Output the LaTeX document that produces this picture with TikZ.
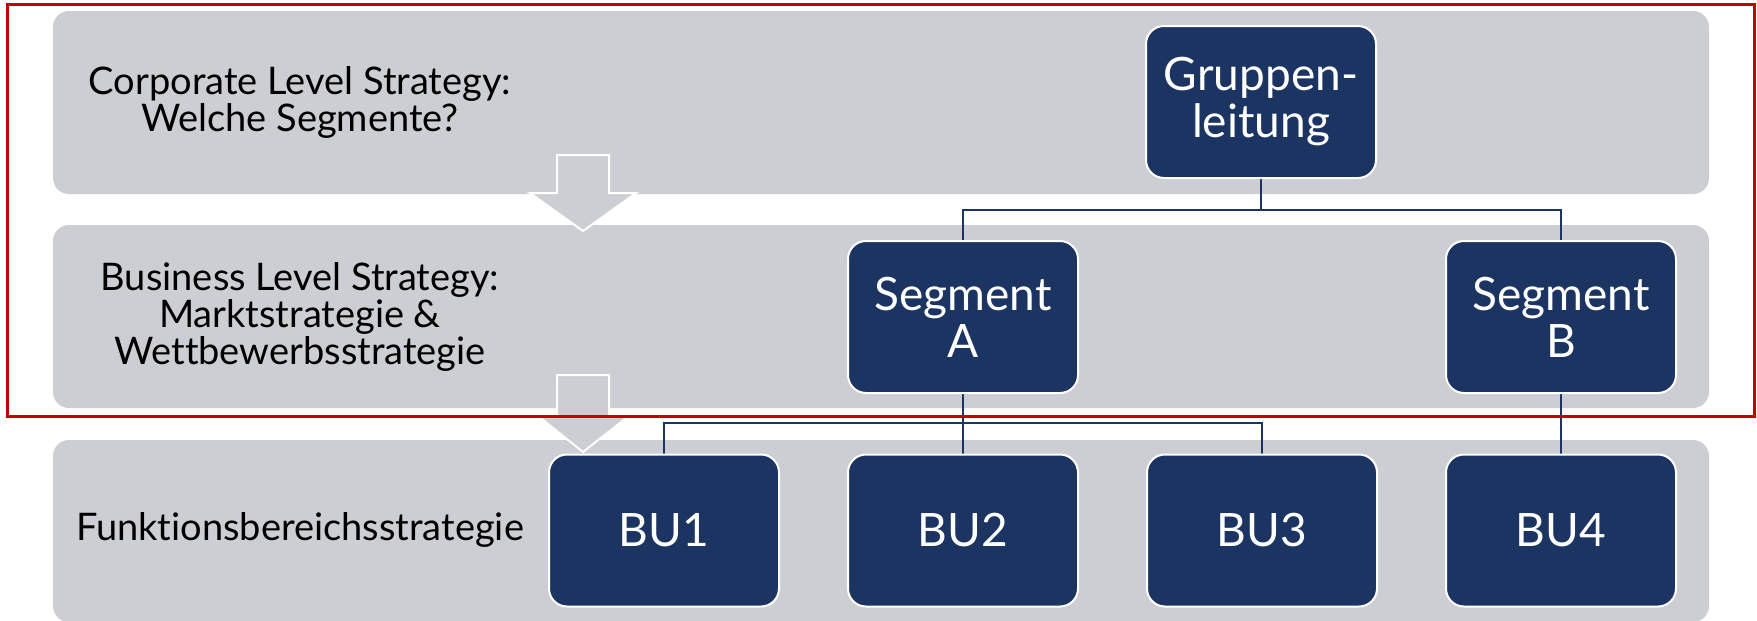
\documentclass[tikz,border=0pt]{standalone}
\usepackage{fontspec}
\setmainfont{Lato}[Ligatures={NoCommon,NoRare,NoContextual}]
\definecolor{bandgray}{RGB}{205,206,211}
\definecolor{navy}{RGB}{28,52,97}
\definecolor{framered}{RGB}{196,0,0}
\pgfdeclarelayer{bands}
\pgfdeclarelayer{links}
\pgfsetlayers{bands,links,main}
\tikzset{
  bandbox/.style={fill=bandgray, rounded corners=16pt, inner sep=0pt},
  bandtext/.style={align=center, text=black, font=\fontsize{38}{37}\selectfont, inner sep=0pt},
  orgbox/.style={fill=navy, draw=white, line width=2pt, rounded corners=18pt,
    minimum width=230pt, minimum height=152pt, inner sep=0pt, align=center,
    text=white, font=\fontsize{46}{47}\selectfont},
  conn/.style={draw=navy, line width=2pt},
  flowarrow/.style={fill=bandgray, draw=white, line width=2pt, line join=miter},
  focusframe/.style={draw=framered, line width=3pt},
}
\begin{document}
\begin{tikzpicture}[x=1pt,y=-1pt]
\useasboundingbox (0,0) rectangle (1757,621);

\begin{pgfonlayer}{bands}
% grey strategy bands
\node[bandbox, minimum width=1656pt, minimum height=183pt] (band1) at (881,102.5) {};
\node[bandbox, minimum width=1656pt, minimum height=183pt] (band2) at (881,316.5) {};
\node[bandbox, minimum width=1656pt, minimum height=182pt] (band3) at (881,531) {};
% downward block arrows between the bands
\draw[flowarrow] (557,155) -- (609,155) -- (609,193) -- (636,193) -- (583,231)
  -- (530,193) -- (557,193) -- cycle;
\draw[flowarrow] (557,375) -- (609,375) -- (609,415) -- (630,415) -- (583,452)
  -- (537,415) -- (557,415) -- cycle;
\end{pgfonlayer}

% band captions
\node[bandtext] (cap1) at (300,102) {Corporate Level Strategy:\\Welche Segmente?};
\node[bandtext] (cap2) at (300,317) {Business Level Strategy:\\Marktstrategie \&\\Wettbewerbsstrategie};
\node[bandtext] (cap3) at (300,530) {Funktionsbereichsstrategie};

% organisation units
\node[orgbox] (G)   at (1261,102) {Gruppen-\\leitung};
\node[orgbox] (SA)  at (963,317)  {Segment\\A};
\node[orgbox] (SB)  at (1561,317) {Segment\\B};
\node[orgbox] (BU1) at (664,530.5)  {BU1};
\node[orgbox] (BU2) at (963,530.5)  {BU2};
\node[orgbox] (BU3) at (1262,530.5) {BU3};
\node[orgbox] (BU4) at (1561,530.5) {BU4};

% tree connectors, kept behind the boxes
\begin{pgfonlayer}{links}
\draw[conn] (G.south) -- ++(0,31) -| (SA.north);
\draw[conn] (G.south) -- ++(0,31) -| (SB.north);
\draw[conn] (SA.south) -- (BU2.north);
\draw[conn] (BU1.north) -- ++(0,-31) -| (BU3.north);
\draw[conn] (SB.south) -- (BU4.north);
\end{pgfonlayer}

% red focus frame around the upper two levels
\draw[focusframe] (7,4) rectangle (1754,416);
\end{tikzpicture}
\end{document}
